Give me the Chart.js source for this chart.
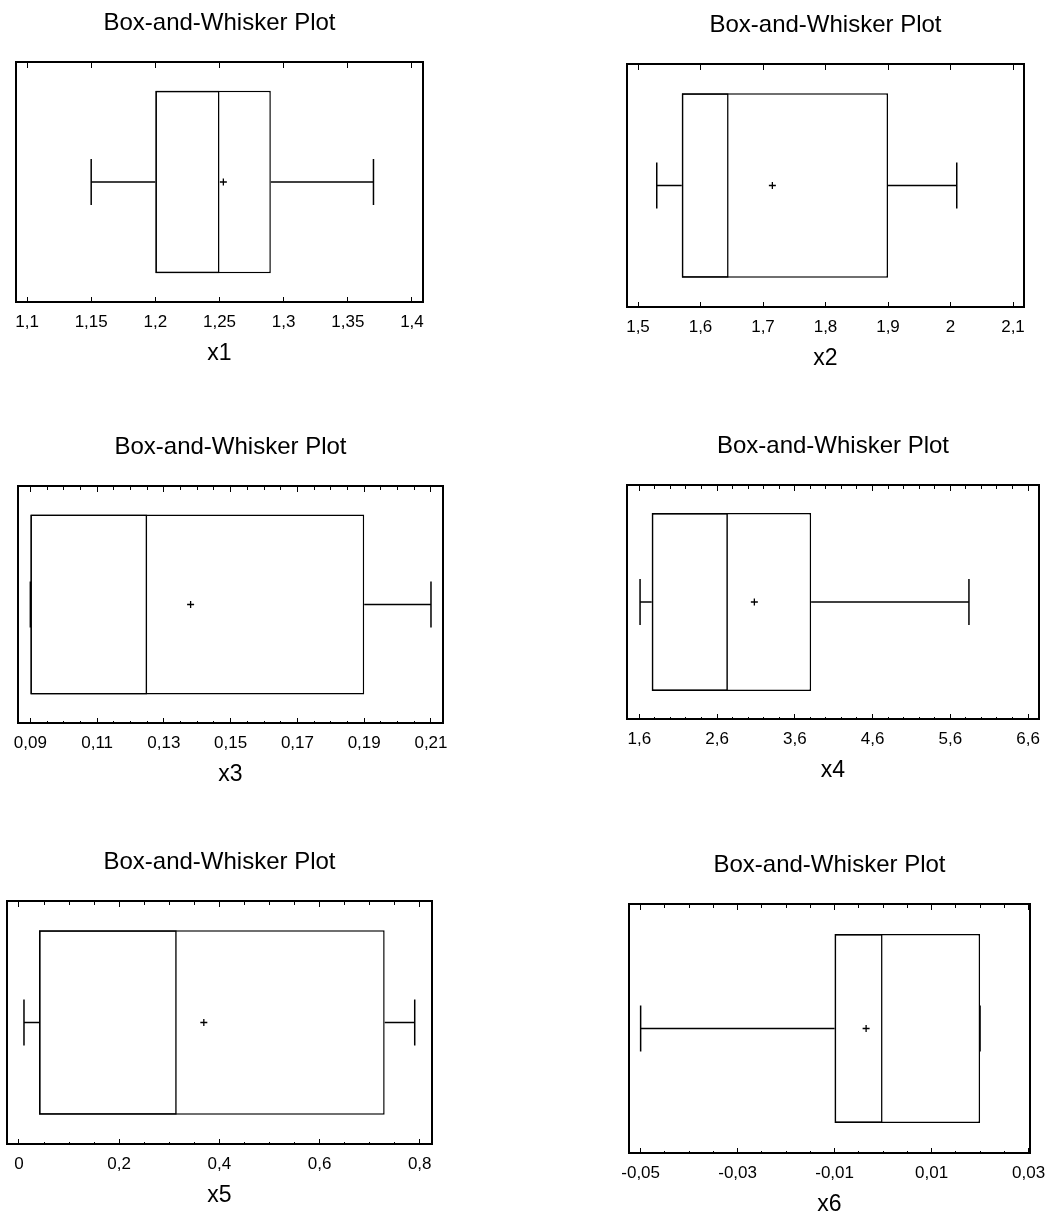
<!DOCTYPE html>
<html>
<head>
<meta charset="utf-8">
<title>Box-and-Whisker Plots</title>
<script src="https://cdn.jsdelivr.net/npm/chart.js@4.4.1/dist/chart.umd.min.js"></script>
<style>
  html, body { margin: 0; padding: 0; background: #fff; }
  body { width: 1047px; height: 1218px; position: relative; overflow: hidden; }
  canvas { position: absolute; }
</style>
</head>
<body>
<canvas id="c1"></canvas>
<canvas id="c2"></canvas>
<canvas id="c3"></canvas>
<canvas id="c4"></canvas>
<canvas id="c5"></canvas>
<canvas id="c6"></canvas>
<script>
// Data
const variables = ['x1', 'x2', 'x3', 'x4', 'x5', 'x6'];
const mins    = [1.15, 1.53, 0.09, 1.61, 0.01, -0.05];
const q1s     = [1.20, 1.57, 0.09, 1.76, 0.04, -0.01];
const medians = [1.25, 1.645, 0.125, 2.74, 0.315, 0.0];
const q3s     = [1.29, 1.90, 0.19, 3.81, 0.73, 0.02];
const maxs    = [1.37, 2.01, 0.21, 5.84, 0.79, 0.02];
const means   = [1.253, 1.715, 0.138, 3.08, 0.369, -0.0035];

// Tick labels
const x1Ticks = ['1,1', '1,15', '1,2', '1,25', '1,3', '1,35', '1,4'];
const x2Ticks = ['1,5', '1,6', '1,7', '1,8', '1,9', '2', '2,1'];
const x3Ticks = ['0,09', '0,11', '0,13', '0,15', '0,17', '0,19', '0,21'];
const x4Ticks = ['1,6', '2,6', '3,6', '4,6', '5,6', '6,6'];
const x5Ticks = ['0', '0,2', '0,4', '0,6', '0,8'];
const x6Ticks = ['-0,05', '-0,03', '-0,01', '0,01', '0,03'];
const tickLabels = [x1Ticks, x2Ticks, x3Ticks, x4Ticks, x5Ticks, x6Ticks];

// Axis ranges
const axisMin = [1.0914, 1.4824, 0.0863, 1.442, -0.0239, -0.0524];
const axisMax = [1.4086, 2.1176, 0.2136, 6.741, 0.8245, 0.0303];
const minorSteps = [0, 0, 0.005, 0.2, 0.05, 0.005];

// Plot area of each panel on the page
const panels = [
  { id: 'c1', left: 16,  top: 62,  width: 407, height: 240 },
  { id: 'c2', left: 627, top: 64,  width: 397, height: 243 },
  { id: 'c3', left: 18,  top: 486, width: 425, height: 237 },
  { id: 'c4', left: 627, top: 485, width: 412, height: 234 },
  { id: 'c5', left: 7,   top: 901, width: 425, height: 243 },
  { id: 'c6', left: 629, top: 904, width: 401, height: 249 }
];

const PAD = 30;
const TOP_EXTRA = 53;
const BOTTOM_EXTRA = 70;

Chart.defaults.font.family = "'Liberation Sans', Arial, sans-serif";
Chart.defaults.color = '#000';

function toNumber(label) {
  return parseFloat(label.replace(',', '.'));
}

function makeChart(i) {
  const p = panels[i];
  const labels = tickLabels[i];
  const majors = labels.map(toNumber);
  const step = minorSteps[i];

  // major + minor tick positions
  let vals = majors.slice();
  if (step) {
    vals = [];
    const n = Math.round((majors[majors.length - 1] - majors[0]) / step);
    for (let k = 0; k <= n; k++) {
      vals.push(+(majors[0] + k * step).toFixed(6));
    }
  }
  const majorIndex = v => majors.findIndex(m => Math.abs(m - v) < 1e-9);
  const isMajorTick = ctx => ctx.tick && majorIndex(ctx.tick.value) >= 0;
  const setTicks = scale => { scale.ticks = vals.map(v => ({ value: v })); };

  const canvas = document.getElementById(p.id);
  canvas.width = p.width + 2 * PAD;
  canvas.height = p.height + TOP_EXTRA + BOTTOM_EXTRA;
  canvas.style.left = (p.left - PAD) + 'px';
  canvas.style.top = (p.top - TOP_EXTRA) + 'px';

  const name = variables[i];
  const capRadius = 23;

  new Chart(canvas, {
    type: 'bar',
    data: {
      labels: [name],
      datasets: [
        {
          type: 'line',
          label: 'mean',
          data: [{ x: means[i], y: name }],
          showLine: false,
          pointStyle: 'cross',
          pointRadius: 3.5,
          pointBorderWidth: 1.3,
          pointBorderColor: '#000',
          order: 0
        },
        {
          type: 'line',
          label: 'lower whisker',
          data: [{ x: mins[i], y: name }, { x: q1s[i], y: name }],
          borderColor: '#000',
          borderWidth: 1.5,
          pointStyle: 'line',
          pointRotation: 90,
          pointRadius: [capRadius, 0],
          pointBorderWidth: 1.5,
          pointBorderColor: '#000',
          order: 1
        },
        {
          type: 'line',
          label: 'upper whisker',
          data: [{ x: q3s[i], y: name }, { x: maxs[i], y: name }],
          borderColor: '#000',
          borderWidth: 1.5,
          pointStyle: 'line',
          pointRotation: 90,
          pointRadius: [0, capRadius],
          pointBorderWidth: 1.5,
          pointBorderColor: '#000',
          order: 1
        },
        // Q1 to median, drawn over the full box so the median is one line
        {
          type: 'bar',
          label: 'Q1 - median',
          data: [[q1s[i], medians[i]]],
          backgroundColor: 'rgba(255,255,255,0)',
          borderColor: '#000',
          borderWidth: 1.5,
          borderSkipped: false,
          grouped: false,
          barPercentage: 0.76,
          categoryPercentage: 1,
          order: 2
        },
        {
          type: 'bar',
          label: 'Q1 - Q3',
          data: [[q1s[i], q3s[i]]],
          backgroundColor: '#fff',
          borderColor: '#000',
          borderWidth: 1.5,
          borderSkipped: false,
          grouped: false,
          barPercentage: 0.76,
          categoryPercentage: 1,
          order: 3
        }
      ]
    },
    options: {
      indexAxis: 'y',
      responsive: false,
      animation: false,
      events: [],
      layout: { autoPadding: false, padding: { left: PAD, right: PAD, top: 0, bottom: 4.4 } },
      plugins: {
        legend: { display: false },
        tooltip: { enabled: false },
        title: {
          display: true,
          text: 'Box-and-Whisker Plot',
          color: '#000',
          fullSize: false,
          font: { size: 24, weight: 'normal' },
          padding: { top: 0, bottom: 24.2 }
        }
      },
      scales: {
        x: {
          type: 'linear',
          position: 'bottom',
          min: axisMin[i],
          max: axisMax[i],
          afterBuildTicks: setTicks,
          ticks: {
            autoSkip: false,
            maxRotation: 0,
            padding: 14.8,
            color: '#000',
            font: { size: 17 },
            callback: v => { const k = majorIndex(v); return k < 0 ? '' : labels[k]; }
          },
          grid: {
            drawOnChartArea: false,
            drawTicks: true,
            tickLength: -5,
            color: '#000',
            tickBorderDash: ctx => isMajorTick(ctx) ? [] : [3, 100]
          },
          border: { display: true, color: '#000', width: 2 },
          title: { display: true, text: name, color: '#000', font: { size: 23 }, padding: { top: -7, bottom: 0 } }
        },
        // top edge: short inward marks made from dashed grid lines
        x2: {
          type: 'linear',
          position: 'top',
          min: axisMin[i],
          max: axisMax[i],
          afterBuildTicks: setTicks,
          ticks: { display: false },
          grid: {
            drawOnChartArea: true,
            drawTicks: false,
            color: '#000'
          },
          border: {
            display: true,
            color: '#000',
            width: 2,
            dash: ctx => ctx.tick ? (isMajorTick(ctx) ? [5, 2000] : [3, 2000]) : []
          }
        },
        y: {
          type: 'category',
          position: 'left',
          ticks: { display: false },
          grid: { drawOnChartArea: false, drawTicks: false },
          border: { display: true, color: '#000', width: 2 }
        },
        y2: {
          type: 'linear',
          position: 'right',
          min: 0,
          max: 1,
          ticks: { display: false },
          grid: { drawOnChartArea: false, drawTicks: false },
          border: { display: true, color: '#000', width: 2 }
        }
      }
    }
  });
}

for (let i = 0; i < panels.length; i++) {
  makeChart(i);
}
</script>
</body>
</html>
